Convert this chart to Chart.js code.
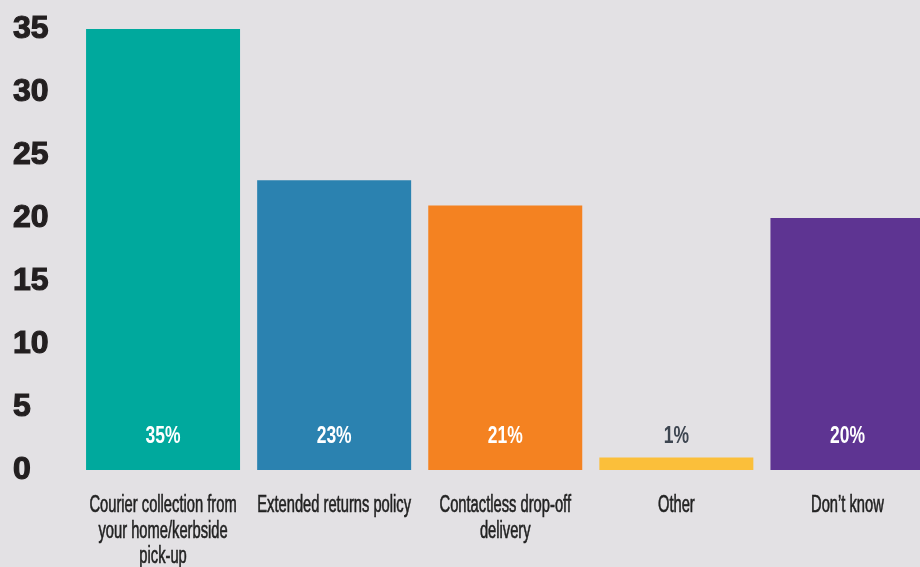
<!DOCTYPE html>
<html>
<head>
<meta charset="utf-8">
<script src="https://cdn.jsdelivr.net/npm/chart.js@4/dist/chart.umd.min.js"></script>
<style>
  html, body { margin: 0; padding: 0; background: #e3e1e4; overflow: hidden; }
  #wrap { width: 933px; height: 567px; }
</style>
</head>
<body>
<div id="wrap"><canvas id="c" width="933" height="567"></canvas></div>
<script>
// Survey options (multi-line labels) and share of respondents, in percent
const categories = [
  ['Courier collection from', 'your home/kerbside', 'pick-up'],
  ['Extended returns policy'],
  ['Contactless drop-off', 'delivery'],
  ['Other'],
  ["Don\u2019t know"]
];
const shares = [35, 23, 21, 1, 20];
const barColors = ['#00a99d', '#2b82b0', '#f48221', '#fbbf3a', '#5e3492'];
const valueLabelColors = ['#ffffff', '#ffffff', '#ffffff', '#3d4550', '#ffffff'];
const yTicks = [0, 5, 10, 15, 20, 25, 30, 35];

// Draws the category captions and the in-bar percentages in a condensed face
const captionPlugin = {
  id: 'captions',
  afterDatasetsDraw(chart) {
    const ctx = chart.ctx;
    const xs = chart.scales.x;
    const ys = chart.scales.y;
    const base = ys.getPixelForValue(0);

    categories.forEach((lines, i) => {
      const cx = xs.getPixelForValue(i);

      // caption under the axis
      ctx.save();
      ctx.fillStyle = '#222222';
      ctx.strokeStyle = '#222222';
      ctx.lineWidth = 0.6;
      ctx.font = '23px "Liberation Sans Narrow", "Liberation Sans", sans-serif';
      ctx.textAlign = 'center';
      ctx.textBaseline = 'alphabetic';
      lines.forEach((line, k) => {
        ctx.save();
        ctx.translate(cx, base + 42 + k * 25.5);
        ctx.scale(0.64, 1);
        ctx.fillText(line, 0, 0);
        ctx.strokeText(line, 0, 0);
        ctx.restore();
      });
      ctx.restore();

      // percentage near the foot of each bar
      ctx.save();
      ctx.fillStyle = valueLabelColors[i];
      ctx.font = 'bold 23px "Liberation Sans Narrow", "Liberation Sans", sans-serif';
      ctx.textAlign = 'center';
      ctx.textBaseline = 'alphabetic';
      ctx.translate(cx, base - 27);
      ctx.scale(0.76, 1);
      ctx.fillText(shares[i] + '%', 0, 0);
      ctx.restore();
    });
  }
};

new Chart(document.getElementById('c'), {
  type: 'bar',
  data: {
    labels: categories,
    datasets: [{
      data: shares,
      backgroundColor: barColors,
      borderWidth: 0,
      categoryPercentage: 1.0,
      barPercentage: 0.9
    }]
  },
  options: {
    responsive: false,
    animation: false,
    events: [],
    layout: { padding: { top: 29, left: 13, right: 0, bottom: 0 } },
    plugins: {
      legend: { display: false },
      tooltip: { enabled: false }
    },
    scales: {
      x: {
        grid: { display: false, drawTicks: false },
        border: { display: false },
        ticks: { display: false },
        afterFit(scale) { scale.height = 97; }
      },
      y: {
        min: 0,
        max: 35,
        grid: { display: false, drawTicks: false },
        border: { display: false },
        afterBuildTicks(scale) { scale.ticks = yTicks.map(v => ({ value: v })); },
        afterFit(scale) {
          scale.width = 64.5;
          scale.paddingTop = 0;
          scale.paddingBottom = 0;
        },
        ticks: {
          crossAlign: 'far',
          padding: 14,
          color: '#231f20',
          textStrokeColor: '#231f20',
          textStrokeWidth: 1.2,
          font: { family: '"Liberation Sans", Arial, sans-serif', size: 32, weight: 'bold' }
        }
      }
    }
  },
  plugins: [captionPlugin]
});
</script>
</body>
</html>
